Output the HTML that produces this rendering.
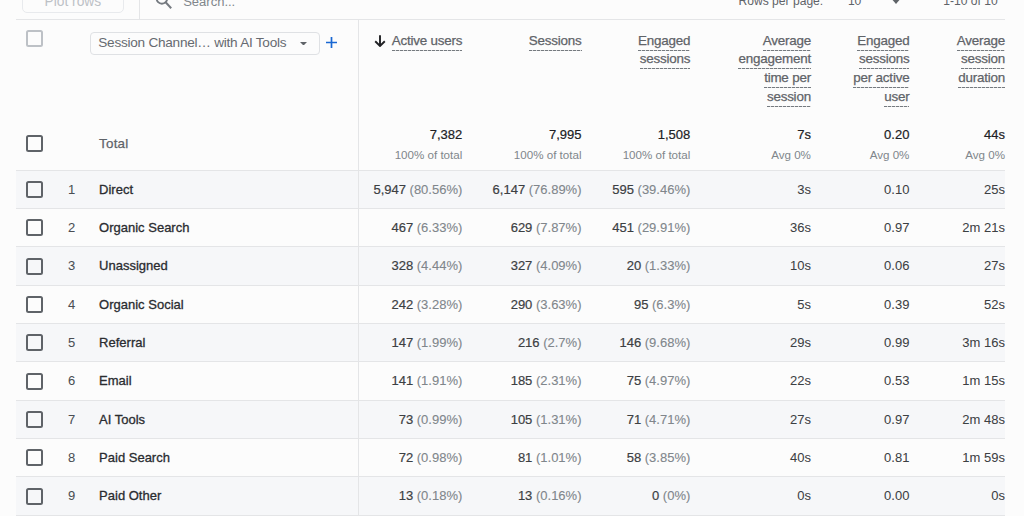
<!DOCTYPE html><html><head><meta charset="utf-8"><style>
*{margin:0;padding:0;box-sizing:border-box}
html,body{width:1024px;height:516px;overflow:hidden;background:#fcfcfc;font-family:"Liberation Sans",sans-serif;position:relative}
.a{position:absolute;white-space:nowrap;line-height:1}
.r{text-align:right}
.hl{position:absolute;height:1px;background:#e4e5e7}
.vl{position:absolute;width:1px;background:#e4e5e7}
.cb{position:absolute;width:17px;height:17px;border:2px solid #5f6368;border-radius:2.5px}
.bg{position:absolute;left:16px;width:989px;background:#f6f7f9}
.num{font-size:13px;color:#3c4043;-webkit-text-stroke-width:0.2px}
.pct{-webkit-text-stroke-width:0.1px}
.pct{color:#80868b}
.hd{font-size:13.4px;color:#5f6368;letter-spacing:-0.2px;-webkit-text-stroke:0.25px #5f6368}
.hd span{position:relative;display:inline-block}
.hd span::after{content:"";position:absolute;left:0;right:0;bottom:-3.6px;height:1px;background:repeating-linear-gradient(90deg,#757a7f 0,#757a7f 3px,rgba(117,122,127,0.25) 3px,rgba(117,122,127,0.25) 4px)}
.tot{font-size:13px;color:#202124;-webkit-text-stroke:0.2px #202124}
.sub{font-size:11.6px;color:#80868b}
.nm{font-size:13px;color:#2a2c30;-webkit-text-stroke:0.3px #2a2c30}
</style></head><body>
<div class="bg" style="top:170.60px;height:37.35px"></div>
<div class="bg" style="top:247.30px;height:37.35px"></div>
<div class="bg" style="top:324.00px;height:37.35px"></div>
<div class="bg" style="top:400.70px;height:37.35px"></div>
<div class="bg" style="top:477.40px;height:37.35px"></div>
<div class="hl" style="left:16px;top:169.60px;width:989px"></div>
<div class="hl" style="left:16px;top:207.95px;width:989px"></div>
<div class="hl" style="left:16px;top:246.30px;width:989px"></div>
<div class="hl" style="left:16px;top:284.65px;width:989px"></div>
<div class="hl" style="left:16px;top:323.00px;width:989px"></div>
<div class="hl" style="left:16px;top:361.35px;width:989px"></div>
<div class="hl" style="left:16px;top:399.70px;width:989px"></div>
<div class="hl" style="left:16px;top:438.05px;width:989px"></div>
<div class="hl" style="left:16px;top:476.40px;width:989px"></div>
<div class="hl" style="left:16px;top:514.75px;width:989px"></div>
<div style="position:absolute;left:22px;top:-20px;width:102px;height:32.5px;border:1px solid #e8eaed;border-radius:5px"></div>
<div class="a " style="left:44.50px;top:-5.08px;font-size:13.8px;color:#bdc1c6">Plot rows</div>
<div class="vl" style="left:139px;top:0;height:19.5px"></div>
<svg style="position:absolute;left:152px;top:-10px" width="22" height="20" viewBox="0 0 22 20"><circle cx="9.9" cy="8.4" r="5.3" fill="none" stroke="#757a80" stroke-width="1.9"/><line x1="13.6" y1="12.2" x2="19.2" y2="18.2" stroke="#757a80" stroke-width="2"/></svg>
<div class="a " style="left:183.20px;top:-4.80px;font-size:13px;color:#80868b">Search...</div>
<div class="a " style="left:738.50px;top:-4.84px;font-size:12.1px;color:#5f6368">Rows per page:</div>
<div class="a " style="left:847.90px;top:-4.84px;font-size:12.1px;color:#5f6368">10</div>
<svg style="position:absolute;left:889px;top:-3px" width="14" height="8" viewBox="0 0 14 8"><path d="M1 0 L13 0 L7 7 Z" fill="#5f6368"/></svg>
<div class="a " style="left:943.20px;top:-4.74px;font-size:12.1px;color:#5f6368">1-10 of 10</div>
<div class="hl" style="left:16px;top:19px;width:989px"></div>
<div class="cb" style="left:26px;top:30.3px;border-color:#bdc1c6"></div>
<div style="position:absolute;left:90px;top:32.4px;width:230px;height:22.4px;border:1px solid #dfe1e4;border-radius:4px;background:#fcfcfc"></div>
<div class="a " style="left:98.30px;top:36.39px;font-size:13.6px;letter-spacing:-0.25px;color:#666a70">Session Channel… with AI Tools</div>
<svg style="position:absolute;left:299.8px;top:41.9px" width="7" height="3.6" viewBox="0 0 7 3.6"><path d="M0 0 L7 0 L3.5 3.6 Z" fill="#5f6368"/></svg>
<svg style="position:absolute;left:326px;top:37px" width="11" height="11" viewBox="0 0 11 11"><path d="M5.5 0 V11 M0 5.5 H11" stroke="#1967d2" stroke-width="1.7"/></svg>
<div class="vl" style="left:358px;top:20px;height:496px"></div>
<div class="a r hd" style="right:561.70px;top:33.56px;"><span>Active users</span></div>
<div class="a r hd" style="right:442.50px;top:33.56px;"><span>Sessions</span></div>
<div class="a r hd" style="right:333.70px;top:33.56px;"><span>Engaged</span></div>
<div class="a r hd" style="right:333.70px;top:52.31px;"><span>sessions</span></div>
<div class="a r hd" style="right:213.10px;top:33.56px;"><span>Average</span></div>
<div class="a r hd" style="right:213.10px;top:52.31px;"><span>engagement</span></div>
<div class="a r hd" style="right:213.10px;top:71.06px;"><span>time per</span></div>
<div class="a r hd" style="right:213.10px;top:89.81px;"><span>session</span></div>
<div class="a r hd" style="right:114.60px;top:33.56px;"><span>Engaged</span></div>
<div class="a r hd" style="right:114.60px;top:52.31px;"><span>sessions</span></div>
<div class="a r hd" style="right:114.60px;top:71.06px;"><span>per active</span></div>
<div class="a r hd" style="right:114.60px;top:89.81px;"><span>user</span></div>
<div class="a r hd" style="right:19.00px;top:33.56px;"><span>Average</span></div>
<div class="a r hd" style="right:19.00px;top:52.31px;"><span>session</span></div>
<div class="a r hd" style="right:19.00px;top:71.06px;"><span>duration</span></div>
<svg style="position:absolute;left:373.5px;top:35px" width="12" height="12" viewBox="0 0 12 12"><path d="M6 0.3 V10.8 M1.2 6.3 L6 11 L10.8 6.3" fill="none" stroke="#202124" stroke-width="1.9"/></svg>
<div class="cb" style="left:26px;top:135.3px"></div>
<div class="a " style="left:99.10px;top:136.86px;font-size:13.4px;color:#5f6368;-webkit-text-stroke:0.25px #5f6368;letter-spacing:0.2px">Total</div>
<div class="a r tot" style="right:561.70px;top:127.80px;">7,382</div>
<div class="a r sub" style="right:561.70px;top:148.58px;">100% of total</div>
<div class="a r tot" style="right:442.50px;top:127.80px;">7,995</div>
<div class="a r sub" style="right:442.50px;top:148.58px;">100% of total</div>
<div class="a r tot" style="right:333.70px;top:127.80px;">1,508</div>
<div class="a r sub" style="right:333.70px;top:148.58px;">100% of total</div>
<div class="a r tot" style="right:213.10px;top:127.80px;">7s</div>
<div class="a r sub" style="right:213.10px;top:148.58px;">Avg 0%</div>
<div class="a r tot" style="right:114.60px;top:127.80px;">0.20</div>
<div class="a r sub" style="right:114.60px;top:148.58px;">Avg 0%</div>
<div class="a r tot" style="right:19.00px;top:127.80px;">44s</div>
<div class="a r sub" style="right:19.00px;top:148.58px;">Avg 0%</div>
<div class="cb" style="left:26px;top:181.00px"></div>
<div class="a r num" style="right:948.70px;top:182.60px;color:#4a4e53;-webkit-text-stroke-width:0.05px">1</div>
<div class="a nm" style="left:99.10px;top:182.60px;">Direct</div>
<div class="a r num" style="right:561.70px;top:182.60px;">5,947 <span class="pct">(80.56%)</span></div>
<div class="a r num" style="right:442.50px;top:182.60px;">6,147 <span class="pct">(76.89%)</span></div>
<div class="a r num" style="right:333.70px;top:182.60px;">595 <span class="pct">(39.46%)</span></div>
<div class="a r num" style="right:213.10px;top:182.60px;-webkit-text-stroke-width:0.05px">3s</div>
<div class="a r num" style="right:114.60px;top:182.60px;-webkit-text-stroke-width:0.05px">0.10</div>
<div class="a r num" style="right:19.00px;top:182.60px;-webkit-text-stroke-width:0.05px">25s</div>
<div class="cb" style="left:26px;top:219.35px"></div>
<div class="a r num" style="right:948.70px;top:220.95px;color:#4a4e53;-webkit-text-stroke-width:0.05px">2</div>
<div class="a nm" style="left:99.10px;top:220.95px;">Organic Search</div>
<div class="a r num" style="right:561.70px;top:220.95px;">467 <span class="pct">(6.33%)</span></div>
<div class="a r num" style="right:442.50px;top:220.95px;">629 <span class="pct">(7.87%)</span></div>
<div class="a r num" style="right:333.70px;top:220.95px;">451 <span class="pct">(29.91%)</span></div>
<div class="a r num" style="right:213.10px;top:220.95px;-webkit-text-stroke-width:0.05px">36s</div>
<div class="a r num" style="right:114.60px;top:220.95px;-webkit-text-stroke-width:0.05px">0.97</div>
<div class="a r num" style="right:19.00px;top:220.95px;-webkit-text-stroke-width:0.05px">2m 21s</div>
<div class="cb" style="left:26px;top:257.70px"></div>
<div class="a r num" style="right:948.70px;top:259.30px;color:#4a4e53;-webkit-text-stroke-width:0.05px">3</div>
<div class="a nm" style="left:99.10px;top:259.30px;">Unassigned</div>
<div class="a r num" style="right:561.70px;top:259.30px;">328 <span class="pct">(4.44%)</span></div>
<div class="a r num" style="right:442.50px;top:259.30px;">327 <span class="pct">(4.09%)</span></div>
<div class="a r num" style="right:333.70px;top:259.30px;">20 <span class="pct">(1.33%)</span></div>
<div class="a r num" style="right:213.10px;top:259.30px;-webkit-text-stroke-width:0.05px">10s</div>
<div class="a r num" style="right:114.60px;top:259.30px;-webkit-text-stroke-width:0.05px">0.06</div>
<div class="a r num" style="right:19.00px;top:259.30px;-webkit-text-stroke-width:0.05px">27s</div>
<div class="cb" style="left:26px;top:296.05px"></div>
<div class="a r num" style="right:948.70px;top:297.65px;color:#4a4e53;-webkit-text-stroke-width:0.05px">4</div>
<div class="a nm" style="left:99.10px;top:297.65px;">Organic Social</div>
<div class="a r num" style="right:561.70px;top:297.65px;">242 <span class="pct">(3.28%)</span></div>
<div class="a r num" style="right:442.50px;top:297.65px;">290 <span class="pct">(3.63%)</span></div>
<div class="a r num" style="right:333.70px;top:297.65px;">95 <span class="pct">(6.3%)</span></div>
<div class="a r num" style="right:213.10px;top:297.65px;-webkit-text-stroke-width:0.05px">5s</div>
<div class="a r num" style="right:114.60px;top:297.65px;-webkit-text-stroke-width:0.05px">0.39</div>
<div class="a r num" style="right:19.00px;top:297.65px;-webkit-text-stroke-width:0.05px">52s</div>
<div class="cb" style="left:26px;top:334.40px"></div>
<div class="a r num" style="right:948.70px;top:336.00px;color:#4a4e53;-webkit-text-stroke-width:0.05px">5</div>
<div class="a nm" style="left:99.10px;top:336.00px;">Referral</div>
<div class="a r num" style="right:561.70px;top:336.00px;">147 <span class="pct">(1.99%)</span></div>
<div class="a r num" style="right:442.50px;top:336.00px;">216 <span class="pct">(2.7%)</span></div>
<div class="a r num" style="right:333.70px;top:336.00px;">146 <span class="pct">(9.68%)</span></div>
<div class="a r num" style="right:213.10px;top:336.00px;-webkit-text-stroke-width:0.05px">29s</div>
<div class="a r num" style="right:114.60px;top:336.00px;-webkit-text-stroke-width:0.05px">0.99</div>
<div class="a r num" style="right:19.00px;top:336.00px;-webkit-text-stroke-width:0.05px">3m 16s</div>
<div class="cb" style="left:26px;top:372.75px"></div>
<div class="a r num" style="right:948.70px;top:374.35px;color:#4a4e53;-webkit-text-stroke-width:0.05px">6</div>
<div class="a nm" style="left:99.10px;top:374.35px;">Email</div>
<div class="a r num" style="right:561.70px;top:374.35px;">141 <span class="pct">(1.91%)</span></div>
<div class="a r num" style="right:442.50px;top:374.35px;">185 <span class="pct">(2.31%)</span></div>
<div class="a r num" style="right:333.70px;top:374.35px;">75 <span class="pct">(4.97%)</span></div>
<div class="a r num" style="right:213.10px;top:374.35px;-webkit-text-stroke-width:0.05px">22s</div>
<div class="a r num" style="right:114.60px;top:374.35px;-webkit-text-stroke-width:0.05px">0.53</div>
<div class="a r num" style="right:19.00px;top:374.35px;-webkit-text-stroke-width:0.05px">1m 15s</div>
<div class="cb" style="left:26px;top:411.10px"></div>
<div class="a r num" style="right:948.70px;top:412.70px;color:#4a4e53;-webkit-text-stroke-width:0.05px">7</div>
<div class="a nm" style="left:99.10px;top:412.70px;">AI Tools</div>
<div class="a r num" style="right:561.70px;top:412.70px;">73 <span class="pct">(0.99%)</span></div>
<div class="a r num" style="right:442.50px;top:412.70px;">105 <span class="pct">(1.31%)</span></div>
<div class="a r num" style="right:333.70px;top:412.70px;">71 <span class="pct">(4.71%)</span></div>
<div class="a r num" style="right:213.10px;top:412.70px;-webkit-text-stroke-width:0.05px">27s</div>
<div class="a r num" style="right:114.60px;top:412.70px;-webkit-text-stroke-width:0.05px">0.97</div>
<div class="a r num" style="right:19.00px;top:412.70px;-webkit-text-stroke-width:0.05px">2m 48s</div>
<div class="cb" style="left:26px;top:449.45px"></div>
<div class="a r num" style="right:948.70px;top:451.05px;color:#4a4e53;-webkit-text-stroke-width:0.05px">8</div>
<div class="a nm" style="left:99.10px;top:451.05px;">Paid Search</div>
<div class="a r num" style="right:561.70px;top:451.05px;">72 <span class="pct">(0.98%)</span></div>
<div class="a r num" style="right:442.50px;top:451.05px;">81 <span class="pct">(1.01%)</span></div>
<div class="a r num" style="right:333.70px;top:451.05px;">58 <span class="pct">(3.85%)</span></div>
<div class="a r num" style="right:213.10px;top:451.05px;-webkit-text-stroke-width:0.05px">40s</div>
<div class="a r num" style="right:114.60px;top:451.05px;-webkit-text-stroke-width:0.05px">0.81</div>
<div class="a r num" style="right:19.00px;top:451.05px;-webkit-text-stroke-width:0.05px">1m 59s</div>
<div class="cb" style="left:26px;top:487.80px"></div>
<div class="a r num" style="right:948.70px;top:489.40px;color:#4a4e53;-webkit-text-stroke-width:0.05px">9</div>
<div class="a nm" style="left:99.10px;top:489.40px;">Paid Other</div>
<div class="a r num" style="right:561.70px;top:489.40px;">13 <span class="pct">(0.18%)</span></div>
<div class="a r num" style="right:442.50px;top:489.40px;">13 <span class="pct">(0.16%)</span></div>
<div class="a r num" style="right:333.70px;top:489.40px;">0 <span class="pct">(0%)</span></div>
<div class="a r num" style="right:213.10px;top:489.40px;-webkit-text-stroke-width:0.05px">0s</div>
<div class="a r num" style="right:114.60px;top:489.40px;-webkit-text-stroke-width:0.05px">0.00</div>
<div class="a r num" style="right:19.00px;top:489.40px;-webkit-text-stroke-width:0.05px">0s</div>
</body></html>
